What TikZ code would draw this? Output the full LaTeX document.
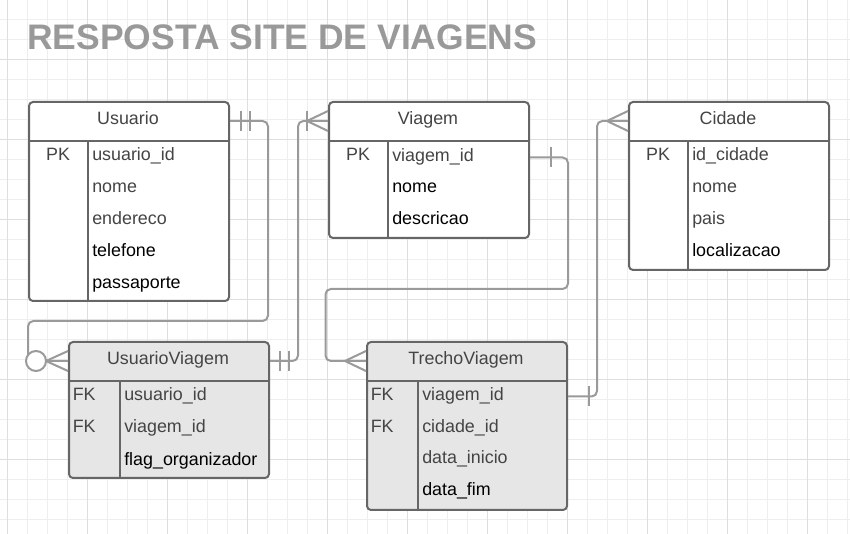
\documentclass[tikz,border=0pt]{standalone}
\usepackage{fontspec}
\setmainfont{Liberation Sans}
\usetikzlibrary{calc}
\definecolor{gridminor}{HTML}{EEEEEE}
\definecolor{gridmajor}{HTML}{DEDEDE}
\definecolor{boxline}{HTML}{666666}
\definecolor{connc}{HTML}{9A9A9A}
\definecolor{txtgray}{HTML}{444444}
\definecolor{fillgray}{HTML}{E6E6E6}
\definecolor{titlegray}{HTML}{999999}
\begin{document}
\begin{tikzpicture}[x=0.75pt,y=-0.75pt,
  entity/.style={draw=boxline, line width=1.5pt, rounded corners=3pt, inner sep=0pt,
    anchor=north west, minimum width=150pt},
  sepline/.style={draw=boxline, line width=1.5pt},
  hdr/.style={anchor=base, inner sep=0pt, text=txtgray, font=\fontsize{13.4pt}{16pt}\selectfont},
  fld/.style={anchor=base west, inner sep=0pt, text=txtgray, font=\fontsize{13.4pt}{16pt}\selectfont},
  fldb/.style={fld, text=black},
  keyc/.style={anchor=base, inner sep=0pt, text=txtgray, font=\fontsize{13.4pt}{16pt}\selectfont},
  keyl/.style={anchor=base west, inner sep=0pt, text=txtgray, font=\fontsize{13.4pt}{16pt}\selectfont},
  conn/.style={draw=connc, line width=1.5pt, rounded corners=4pt},
  mk/.style={draw=connc, line width=1.5pt},
  ttl/.style={anchor=base west, inner sep=0pt, text=titlegray, font=\fontsize{26.6pt}{30pt}\selectfont\bfseries}
]
\useasboundingbox (0,0) rectangle (850,534);
\fill[white] (0,0) rectangle (850,534);
% grid
\foreach \gx in {7,27,...,847} \draw[gridminor, line width=0.75pt] (\gx,0) -- (\gx,534);
\foreach \gy in {0,20,...,534} \draw[gridminor, line width=0.75pt] (0,\gy) -- (850,\gy);
\foreach \gx in {7,87,...,847} \draw[gridmajor, line width=0.75pt] (\gx,0) -- (\gx,534);
\foreach \gy in {60,140,...,534} \draw[gridmajor, line width=0.75pt] (0,\gy) -- (850,\gy);

% title
\node[ttl] (title) at (27,49.5) {RESPOSTA SITE DE VIAGENS};

% ---------- Usuario
\node[entity, fill=white, minimum height=149.25pt] (usuario) at (28,101) {};
\draw[sepline] ($(usuario.north west)+(0,40)$) -- ($(usuario.north east)+(0,40)$);
\draw[sepline] ($(usuario.north west)+(60,40)$) -- ($(usuario.south west)+(60,0)$);
\node[hdr] (usuarioT) at (128,124.5) {Usuario};
\node[keyc] (usuarioK1) at (58,160.5) {PK};
\node[fld] (usuarioF1) at (92,160.5) {usuario\_id};
\node[fld] (usuarioF2) at (92,192.5) {nome};
\node[fld] (usuarioF3) at (92,224.5) {endereco};
\node[fldb] (usuarioF4) at (92,256.5) {telefone};
\node[fldb] (usuarioF5) at (92,288.5) {passaporte};

% ---------- Viagem
\node[entity, fill=white, minimum height=102pt] (viagem) at (328,101) {};
\draw[sepline] ($(viagem.north west)+(0,40)$) -- ($(viagem.north east)+(0,40)$);
\draw[sepline] ($(viagem.north west)+(60,40)$) -- ($(viagem.south west)+(60,0)$);
\node[hdr] (viagemT) at (428,124.5) {Viagem};
\node[keyc] (viagemK1) at (358,160.5) {PK};
\node[fld] (viagemF1) at (392,161.5) {viagem\_id};
\node[fldb] (viagemF2) at (392,192.5) {nome};
\node[fldb] (viagemF3) at (392,224.5) {descricao};

% ---------- Cidade
\node[entity, fill=white, minimum height=126pt] (cidade) at (628,101) {};
\draw[sepline] ($(cidade.north west)+(0,40)$) -- ($(cidade.north east)+(0,40)$);
\draw[sepline] ($(cidade.north west)+(60,40)$) -- ($(cidade.south west)+(60,0)$);
\node[hdr] (cidadeT) at (728,124.5) {Cidade};
\node[keyc] (cidadeK1) at (658,160.5) {PK};
\node[fld] (cidadeF1) at (692,160.5) {id\_cidade};
\node[fld] (cidadeF2) at (692,192.5) {nome};
\node[fld] (cidadeF3) at (692,224.5) {pais};
\node[fldb] (cidadeF4) at (692,256.5) {localizacao};

% ---------- UsuarioViagem
\node[entity, fill=fillgray, minimum height=102pt] (uv) at (68,341) {};
\draw[sepline] ($(uv.north west)+(0,40)$) -- ($(uv.north east)+(0,40)$);
\draw[sepline] ($(uv.north west)+(52,40)$) -- ($(uv.south west)+(52,0)$);
\node[hdr] (uvT) at (168,364.5) {UsuarioViagem};
\node[keyl] (uvK1) at (72.5,401) {FK};
\node[keyl] (uvK2) at (72.5,433) {FK};
\node[fld] (uvF1) at (124,401) {usuario\_id};
\node[fld] (uvF2) at (124,433) {viagem\_id};
\node[fldb] (uvF3) at (124,465) {flag\_organizador};

% ---------- TrechoViagem
\node[entity, fill=fillgray, minimum height=126pt] (tv) at (366,341) {};
\draw[sepline] ($(tv.north west)+(0,40)$) -- ($(tv.north east)+(0,40)$);
\draw[sepline] ($(tv.north west)+(52,40)$) -- ($(tv.south west)+(52,0)$);
\node[hdr] (tvT) at (466,364.5) {TrechoViagem};
\node[keyl] (tvK1) at (370.5,401) {FK};
\node[keyl] (tvK2) at (370.5,432.5) {FK};
\node[fld] (tvF1) at (422,401) {viagem\_id};
\node[fld] (tvF2) at (422,432.5) {cidade\_id};
\node[fld] (tvF3) at (422,464) {data\_inicio};
\node[fldb] (tvF4) at (422,496) {data\_fim};

% ---------- connector anchor points
\coordinate (uE) at ($(usuario.north east)+(0,20)$);
\coordinate (uvW) at ($(uv.north west)+(0,20)$);
\coordinate (uvE) at ($(uv.north east)+(0,20)$);
\coordinate (vW) at ($(viagem.north west)+(0,20)$);
\coordinate (vE) at ($(viagem.north east)+(0,56.5)$);
\coordinate (tvW) at ($(tv.north west)+(0,20)$);
\coordinate (tvE) at ($(tv.north east)+(0,55.5)$);
\coordinate (cW) at ($(cidade.north west)+(0,20)$);

% C1 Usuario -> UsuarioViagem
\draw[conn] (uE) -- (268,121) -- (268,321) -- (28,321) -- (28,361) -- (uvW);
\draw[mk] ($(uE)+(11,-10)$) -- ++(0,20);
\draw[mk] ($(uE)+(20,-10)$) -- ++(0,20);
\draw[mk] ($(uvW)+(-22,0)$) -- ($(uvW)+(0,-10)$);
\draw[mk] ($(uvW)+(-22,0)$) -- (uvW);
\draw[mk] ($(uvW)+(-22,0)$) -- ($(uvW)+(0,10)$);
\draw[mk, fill=white] ($(uvW)+(-32,0)$) circle[radius=10];

% C2 UsuarioViagem -> Viagem
\draw[conn] (uvE) -- (298,361) -- (298,121) -- (vW);
\draw[mk] ($(uvE)+(10,-10)$) -- ++(0,20);
\draw[mk] ($(uvE)+(19,-10)$) -- ++(0,20);
\draw[mk] ($(vW)+(-21,-10)$) -- ++(0,20);
\draw[mk] ($(vW)+(-21,0)$) -- ($(vW)+(0,-10)$);
\draw[mk] ($(vW)+(-21,0)$) -- ($(vW)+(0,10)$);

% C3 Viagem -> TrechoViagem
\draw[conn] (vE) -- (568,157.5) -- (568,289) -- (325.5,289) -- (325.5,361) -- (tvW);
\draw[mk] ($(vE)+(21,-10)$) -- ++(0,20);
\draw[mk] ($(tvW)+(-21,0)$) -- ($(tvW)+(0,-10)$);
\draw[mk] ($(tvW)+(-21,0)$) -- ($(tvW)+(0,10)$);

% C4 TrechoViagem -> Cidade
\draw[conn] (tvE) -- (597,396.5) -- (597,121) -- (cW);
\draw[mk] ($(tvE)+(21,-10)$) -- ++(0,20);
\draw[mk] ($(cW)+(-21,0)$) -- ($(cW)+(0,-10)$);
\draw[mk] ($(cW)+(-21,0)$) -- ($(cW)+(0,10)$);
\end{tikzpicture}
\end{document}
